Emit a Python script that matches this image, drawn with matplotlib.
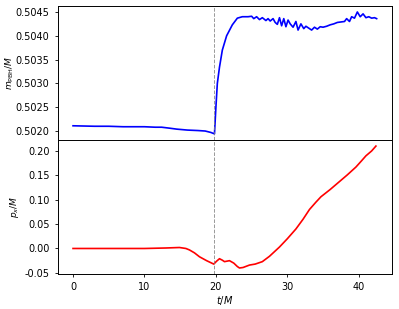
import numpy as np
import matplotlib
matplotlib.use("Agg")
import matplotlib.pyplot as plt

# black hole mass vs time
t_mass = [0.0, 3.0, 5.0, 7.0, 8.2, 10.0, 11.5, 12.4, 13.5, 14.5, 16.0, 17.5, 18.5, 19.3, 19.8,
          20.0, 20.2, 20.5, 20.9, 21.5, 22.3, 23.0, 23.7,
          24.5, 25.0, 25.3, 25.7, 26.1, 26.5, 27.0, 27.3, 27.6, 28.0, 28.3, 28.6, 28.9, 29.2,
          29.5, 29.8, 30.1, 30.4, 30.8, 31.2, 31.5, 31.9, 32.3, 32.6, 33.0, 33.4, 33.8, 34.2,
          34.6, 35.0, 35.5, 36.0, 36.5, 37.0, 37.5, 38.0, 38.3, 38.7, 39.0, 39.4, 39.8, 40.2,
          40.6, 41.0, 41.4, 41.8, 42.2, 42.5]
m_pbh = [0.50211, 0.50210, 0.50210, 0.50209, 0.50209, 0.50209, 0.50208, 0.50208, 0.50206, 0.50204,
         0.50202, 0.50201, 0.50200, 0.50197, 0.50194,
         0.50250, 0.50300, 0.50334, 0.50370, 0.50400, 0.50423, 0.50437, 0.50440,
         0.50440, 0.50441, 0.50436, 0.50440, 0.50434, 0.50438, 0.50432, 0.50436, 0.50431, 0.50436,
         0.50428, 0.50424, 0.50438, 0.50421, 0.50436, 0.50419, 0.50433, 0.50425, 0.50418, 0.50430,
         0.50412, 0.50425, 0.50415, 0.50420, 0.50416, 0.50412, 0.50418, 0.50414, 0.50419, 0.50418,
         0.50420, 0.50423, 0.50425, 0.50428, 0.50429, 0.50430, 0.50436, 0.50430, 0.50440, 0.50437,
         0.50450, 0.50440, 0.50446, 0.50438, 0.50440, 0.50437, 0.50438, 0.50436]

# momentum vs time
t_mom = [0.0, 5.0, 10.0, 13.0, 14.9, 15.8, 16.3, 17.0, 17.7, 18.7, 19.7, 20.1, 20.5, 20.9, 21.2,
         21.9, 22.5, 23.0, 23.3, 23.8, 24.7, 25.5, 26.5, 27.5, 28.9, 30.0, 31.2, 32.2, 33.1,
         34.0, 34.7, 36.0, 37.2, 38.4, 39.6, 40.4, 41.0, 41.8, 42.4]
p_x = [0.0, 0.0, 0.0, 0.001, 0.002, 0.0, -0.003, -0.009, -0.017, -0.025, -0.032, -0.026, -0.021,
       -0.024, -0.027, -0.025, -0.030, -0.037, -0.040, -0.039, -0.034, -0.032, -0.027, -0.016,
       0.003, 0.020, 0.040, 0.060, 0.080, 0.095, 0.106, 0.121, 0.136, 0.151, 0.167, 0.180, 0.190,
       0.200, 0.210]

t_merge = 19.8

fig = plt.figure(figsize=(3.99, 3.09), dpi=100)
ax1 = fig.add_axes([0.145, 0.547, 0.837, 0.434])
ax2 = fig.add_axes([0.145, 0.113, 0.837, 0.434], sharex=ax1)

ax1.plot(t_mass, m_pbh, color="blue", lw=1.2)
ax2.plot(t_mom, p_x, color="red", lw=1.2)
for a in (ax1, ax2):
    a.axvline(t_merge, color="gray", ls="--", lw=0.7, alpha=0.8)
    a.tick_params(labelsize=7, length=2.5, width=0.6)
    for s in a.spines.values():
        s.set_linewidth(0.7)

ax1.set_yticks([0.5020, 0.5025, 0.5030, 0.5035, 0.5040, 0.5045])
ax1.yaxis.set_major_formatter(matplotlib.ticker.FormatStrFormatter("%.4f"))
ax1.tick_params(labelbottom=False, bottom=False)
ax2.set_yticks([-0.05, 0.0, 0.05, 0.10, 0.15, 0.20])
ax2.yaxis.set_major_formatter(matplotlib.ticker.FormatStrFormatter("%.2f"))
ax2.set_xticks([0, 10, 20, 30, 40])

ax1.set_ylabel(r"$m_{\rm PBH}/M$", fontsize=6.5)
ax2.set_ylabel(r"$p_x/M$", fontsize=6.5)
ax1.yaxis.set_label_coords(-0.124, 0.5)
ax2.yaxis.set_label_coords(-0.11, 0.5)
ax2.set_xlabel(r"$t/M$", fontsize=7, labelpad=1)

fig.savefig("out.png", dpi=100)
